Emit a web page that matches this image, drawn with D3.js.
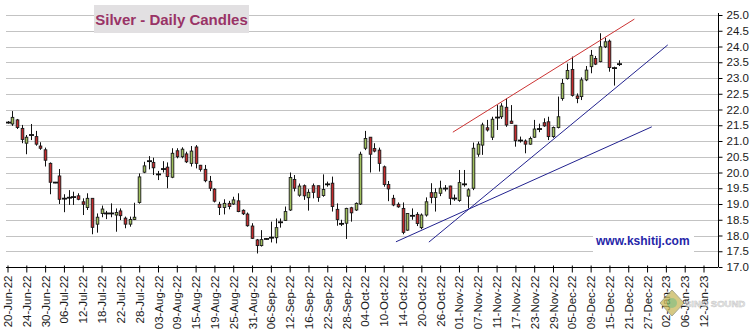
<!DOCTYPE html>
<html><head><meta charset="utf-8">
<script src="https://cdn.jsdelivr.net/npm/d3@7"></script>
<style>html,body{margin:0;padding:0;background:#fff;} svg{display:block;}</style>
</head><body>
<svg id="chart" width="753" height="334"></svg>
<script>
// Daily candles, one entry per trading day from 20-Jun-22 (index 0) to 19-Dec-22 (index 130)
const openP = [21.60,21.54,21.67,21.40,20.93,21.18,21.14,20.84,20.72,20.29,19.69,19.89,19.16,19.19,19.21,19.26,19.07,18.89,19.18,18.36,
18.70,18.71,18.69,18.65,18.78,18.55,18.36,18.51,19.05,20.01,20.35,20.32,19.95,20.10,20.17,19.85,20.69,20.50,20.59,20.29,
20.81,20.23,20.10,19.72,19.47,18.99,18.89,19.02,19.00,19.10,18.80,18.68,18.30,17.86,17.68,17.88,17.92,17.93,18.41,18.48,
18.81,19.78,19.28,19.58,19.20,19.58,19.58,19.27,19.62,19.66,18.83,18.38,18.39,18.88,18.81,19.00,20.77,21.12,20.76,20.71,
20.18,19.62,19.18,18.99,18.86,18.17,18.62,18.67,18.25,18.65,19.36,19.21,19.34,19.48,19.57,19.17,19.11,19.62,19.25,19.50,
20.58,20.87,21.42,21.12,21.74,21.77,22.07,21.63,21.50,21.01,21.00,20.90,21.12,21.37,21.58,21.61,21.14,21.43,22.35,22.98,
23.27,22.43,22.41,22.94,23.36,23.62,23.52,23.99,24.17,23.33,23.43];
const highP = [21.63,21.95,21.70,21.51,21.19,21.54,21.32,20.96,20.79,20.32,19.70,20.11,19.31,19.44,19.39,19.34,19.18,19.34,19.18,18.70,
18.95,18.78,19.02,18.86,18.86,18.60,18.60,19.04,19.97,20.34,20.52,20.47,20.05,20.36,20.32,20.77,20.77,20.80,20.66,20.84,
20.87,20.24,20.24,19.89,19.50,19.07,19.15,19.10,19.23,19.34,18.83,18.73,18.39,17.89,18.17,17.92,18.44,18.54,18.54,18.92,
20.00,19.92,19.65,19.62,19.47,19.65,19.58,19.94,19.71,19.87,19.02,18.50,18.88,18.91,19.05,20.66,21.32,21.12,20.93,20.79,
20.22,19.73,19.29,19.05,19.05,18.70,18.86,18.74,18.70,19.21,19.66,19.50,19.74,19.60,19.58,19.30,20.08,20.08,19.50,20.95,
20.98,21.58,21.67,21.77,22.14,22.20,22.35,22.14,21.50,21.14,21.05,21.14,21.67,21.55,21.72,21.77,21.46,22.41,22.97,23.46,
23.68,22.51,23.02,23.38,23.89,23.70,24.42,24.28,24.22,23.36,23.56];
const lowP = [21.55,21.48,21.38,20.93,20.58,21.03,20.85,20.72,20.19,19.31,19.66,19.00,18.74,18.97,18.97,19.12,18.65,18.81,18.04,18.09,
18.58,18.52,18.58,18.12,18.49,18.23,18.28,18.49,19.01,19.98,20.10,19.92,19.76,20.00,19.50,19.82,20.45,20.45,20.30,20.19,
20.13,20.03,19.69,19.41,19.05,18.65,18.67,18.83,18.97,18.74,18.65,18.28,17.89,17.43,17.65,17.87,17.78,17.75,18.25,18.46,
18.78,19.40,19.23,19.13,18.79,19.18,19.07,19.23,19.55,18.76,18.31,18.30,17.89,18.44,18.78,18.97,20.71,20.00,20.64,20.03,
19.55,19.09,18.93,18.88,18.04,18.15,18.50,18.30,18.20,18.60,19.02,18.76,19.25,19.40,18.97,19.10,19.07,19.55,18.86,19.44,
20.50,20.56,21.30,21.03,21.35,21.70,21.45,21.55,20.82,20.95,20.61,20.88,21.10,21.28,21.45,21.03,21.10,21.40,22.28,22.95,
22.41,22.20,22.30,22.90,23.15,23.41,23.50,23.95,23.20,22.76,23.38];
const closeP = [21.57,21.75,21.43,21.05,21.12,21.20,20.90,20.77,20.39,19.69,19.67,19.15,19.18,19.21,19.23,19.15,18.99,19.18,18.26,18.58,
18.84,18.69,18.71,18.73,18.63,18.36,18.51,18.58,19.86,20.21,20.37,20.15,19.93,20.12,19.87,20.61,20.50,20.74,20.34,20.68,
20.29,20.10,19.74,19.50,19.09,18.89,19.02,18.92,19.13,18.76,18.69,18.31,17.91,17.68,17.87,17.90,17.94,18.25,18.43,18.76,
19.84,19.50,19.57,19.26,19.37,19.37,19.21,19.46,19.63,18.92,18.51,18.36,18.86,18.72,19.02,20.58,21.08,20.58,20.68,20.29,
19.62,19.48,18.97,18.91,18.10,18.70,18.63,18.38,18.65,19.07,19.21,19.36,19.50,19.50,19.18,19.18,19.68,19.63,19.45,20.77,
20.90,21.51,21.35,21.69,21.75,22.11,21.51,21.56,21.01,21.02,20.90,21.08,21.38,21.39,21.48,21.14,21.43,21.77,22.83,23.24,
22.45,22.35,22.94,23.25,23.72,23.44,23.99,24.15,23.33,23.30,23.45];

// x-axis tick labels, one every 4 trading days
const tickLabels = ["20-Jun-22","24-Jun-22","30-Jun-22","06-Jul-22","12-Jul-22","18-Jul-22","22-Jul-22","28-Jul-22",
"03-Aug-22","09-Aug-22","15-Aug-22","19-Aug-22","25-Aug-22","31-Aug-22","06-Sep-22","12-Sep-22","16-Sep-22",
"22-Sep-22","28-Sep-22","04-Oct-22","10-Oct-22","14-Oct-22","20-Oct-22","26-Oct-22","01-Nov-22","07-Nov-22",
"11-Nov-22","17-Nov-22","23-Nov-22","29-Nov-22","05-Dec-22","09-Dec-22","15-Dec-22","21-Dec-22","27-Dec-22",
"02-Jan-23","06-Jan-23","12-Jan-23"];
const tickStep = 4;
const yTicks = [17.0,17.5,18.0,18.5,19.0,19.5,20.0,20.5,21.0,21.5,22.0,22.5,23.0,23.5,24.0,24.5,25.0];

// trend lines: [day index, price]
const redLine = [[94.7, 21.28],[133.3, 24.87]];
const blueSteep = [[89.6, 17.79],[140.4, 24.05]];
const blueShallow = [[82.6, 17.80],[137.0, 21.45]];

const titleText = "Silver - Daily Candles";
const siteText = "www.kshitij.com";

const svg = d3.select("#chart");
const FONT = "'Liberation Sans', Arial, sans-serif";
const plotL = 6, plotR = 718, plotT = 15, plotB = 267;

const x = d3.scaleLinear().domain([0, (tickLabels.length - 1) * tickStep]).range([7.5, 703.5]);
const y = d3.scaleLinear().domain([17, 25]).range([plotB, plotT]);

// gridlines
svg.append("g").selectAll("line").data(yTicks.filter(v => v > 17)).join("line")
  .attr("x1", plotL).attr("x2", plotR)
  .attr("y1", d => Math.round(y(d)) + 0.5).attr("y2", d => Math.round(y(d)) + 0.5)
  .attr("stroke", "#c3c3c3").attr("stroke-width", 1);

// white box behind site text
svg.append("rect").attr("x", 593).attr("y", 229).attr("width", 101).attr("height", 25).attr("fill", "#fff");
svg.append("text").attr("x", 596).attr("y", 244.5).attr("font-family", FONT).attr("font-weight", "bold")
  .attr("font-size", 12).attr("fill", "#2626a8").text(siteText);

// title
svg.append("rect").attr("x", 94).attr("y", 5).attr("width", 155).attr("height", 28).attr("fill", "#e2e0e2");
svg.append("text").attr("x", 171.5).attr("y", 24.5).attr("text-anchor", "middle").attr("font-family", FONT)
  .attr("font-weight", "bold").attr("font-size", 15).attr("fill", "#993366").text(titleText);

// right y axis
const yAxis = d3.axisRight(y).tickValues(yTicks).tickSize(4).tickPadding(4).tickFormat(d3.format(".1f"));
const gy = svg.append("g").attr("transform", `translate(${plotR + 0.5},0)`).call(yAxis);
gy.select(".domain").attr("stroke", "#000").attr("d", `M0,${plotT - 2}V${plotB}`);
gy.selectAll(".tick line").attr("stroke", "#000");
gy.selectAll(".tick text").attr("font-family", FONT).attr("font-size", 11.5).attr("fill", "#1a1a1a");

// bottom x axis
const tickIdx = tickLabels.map((_, k) => k * tickStep);
const xAxis = d3.axisBottom(x).tickValues(tickIdx).tickSize(5).tickFormat((d, k) => tickLabels[k]);
const gx = svg.append("g").attr("transform", `translate(0,${plotB + 0.5})`).call(xAxis);
gx.select(".domain").attr("stroke", "#000").attr("d", `M${plotL},0H${plotR}`);
gx.selectAll(".tick line").attr("stroke", "#000").attr("y1", -2);
gx.selectAll(".tick text").attr("font-family", FONT).attr("font-size", 11.5).attr("fill", "#1a1a1a")
  .attr("text-anchor", "end").attr("transform", "rotate(-90)").attr("x", -8).attr("y", 0).attr("dy", "0.35em")
  .attr("dx", 0);

// candles
const n = closeP.length;
const idx = d3.range(n);
const cg = svg.append("g");
idx.forEach(i => {
  const cx = Math.round(x(i)) + 0.5;
  cg.append("line").attr("x1", cx).attr("x2", cx).attr("y1", y(highP[i])).attr("y2", y(lowP[i]))
    .attr("stroke", "#111").attr("stroke-width", 1);
  const o = openP[i], c = closeP[i];
  const top = y(Math.max(o, c)), bot = y(Math.min(o, c));
  if (bot - top < 1.6) {
    cg.append("rect").attr("x", cx - 2.5).attr("y", (top + bot) / 2 - 0.9).attr("width", 5).attr("height", 1.8)
      .attr("fill", "#111");
  } else {
    cg.append("rect").attr("x", cx - 1.3).attr("y", top).attr("width", 2.6).attr("height", bot - top)
      .attr("fill", c >= o ? "#9fbf5c" : "#c42a2c").attr("stroke", "#1a1a1a").attr("stroke-width", 0.9);
  }
});

// trend lines
const lineGen = d3.line().x(d => x(d[0])).y(d => y(d[1]));
svg.append("path").attr("d", lineGen(redLine)).attr("stroke", "#cc3333").attr("stroke-width", 1).attr("fill", "none");
svg.append("path").attr("d", lineGen(blueSteep)).attr("stroke", "#22228f").attr("stroke-width", 1).attr("fill", "none");
svg.append("path").attr("d", lineGen(blueShallow)).attr("stroke", "#22228f").attr("stroke-width", 1).attr("fill", "none");

// faint corner watermark
const wm = svg.append("g").attr("opacity", 0.75);
wm.append("path").attr("d", "M672,290 L684,303 L672,316 L660,303 Z").attr("fill", "#c9b85a").attr("stroke", "#8a8a6a");
wm.append("circle").attr("cx", 672).attr("cy", 303).attr("r", 5).attr("fill", "#7fae5a");
wm.append("text").attr("x", 685).attr("y", 307).attr("font-family", FONT).attr("font-weight", "bold")
  .attr("font-size", 9.5).attr("fill", "#e6e6e6").attr("stroke", "#b0b0b0").attr("stroke-width", 0.5).text("SINO SOUND");
</script>
</body></html>
